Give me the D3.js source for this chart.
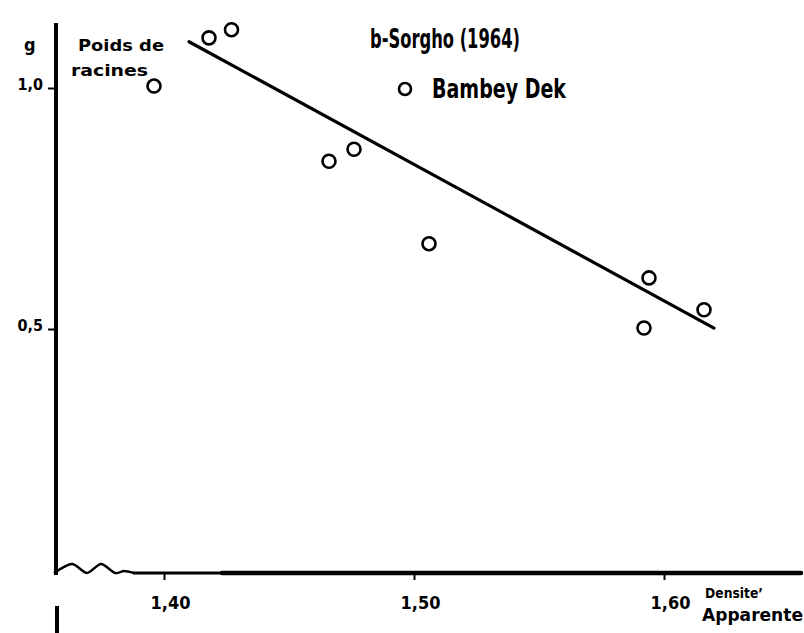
<!DOCTYPE html>
<html>
<head>
<meta charset="utf-8">
<script src="https://cdn.jsdelivr.net/npm/d3@7"></script>
<style>
  body { margin: 0; background: #fff; }
  svg { display: block; }
  text { font-family: "DejaVu Sans Condensed", "DejaVu Sans", sans-serif; fill: #000; font-weight: bold; }
</style>
</head>
<body>
<svg width="804" height="633"></svg>
<script>
    const width = 804;
    const height = 633;

    // Points (densite apparente, poids de racines en g)
    const densite = [1.396, 1.418, 1.427, 1.466, 1.476, 1.506, 1.594, 1.592, 1.616];
    const poids = [1.004, 1.104, 1.121, 0.848, 0.873, 0.677, 0.606, 0.502, 0.540];

    // Ends of the fitted line
    const droiteX = [1.41, 1.62];
    const droiteY = [1.096, 0.502];

    const xTicks = [1.40, 1.50, 1.60];
    const yTicks = [0.5, 1.0];

    const svg = d3.select('svg')
        .attr('viewBox', [0, 0, width, height]);

    const x = d3.scaleLinear().domain([1.40, 1.60]).range([164, 664]);
    const y = d3.scaleLinear().domain([0.5, 1.0]).range([329, 88]);

    const axisX = 56;   // where the y axis stands
    const axisY = 573;  // where the x axis lies

    const comma = d => d3.format('.2f')(d).replace('.', ',');

    // Y axis: thick vertical line and two ticks
    svg.append('line')
        .attr('x1', axisX).attr('x2', axisX)
        .attr('y1', 23).attr('y2', axisY + 2)
        .attr('stroke', '#000').attr('stroke-width', 4);
    // little piece of the axis below the break
    svg.append('line')
        .attr('x1', axisX + 1).attr('x2', axisX + 1)
        .attr('y1', 606).attr('y2', height)
        .attr('stroke', '#000').attr('stroke-width', 4);

    const gy = svg.append('g')
        .attr('transform', `translate(${axisX},0)`)
        .call(d3.axisLeft(y).tickValues(yTicks).tickSize(8).tickPadding(5)
            .tickFormat(d => d3.format('.1f')(d).replace('.', ',')));
    gy.select('.domain').remove();
    gy.selectAll('.tick line').attr('stroke-width', 2);
    gy.selectAll('.tick text')
        .attr('font-family', null)
        .style('font-size', '16px')
        .attr('dy', '0.1em');

    // X axis: wavy break then a thick straight line
    const wave = [
        [axisX - 2, axisY], [axisX + 16, axisY - 9], [axisX + 31, axisY],
        [axisX + 45, axisY - 9], [axisX + 59, axisY], [axisX + 68, axisY - 2],
        [axisX + 78, axisY]
    ];
    svg.append('path')
        .attr('d', d3.line().curve(d3.curveCardinal.tension(0.2))(wave))
        .attr('fill', 'none').attr('stroke', '#000').attr('stroke-width', 2.4);
    svg.append('line')
        .attr('x1', axisX + 77).attr('x2', 801)
        .attr('y1', axisY).attr('y2', axisY)
        .attr('stroke', '#000').attr('stroke-width', 3);
    svg.append('line')
        .attr('x1', 222).attr('x2', 801)
        .attr('y1', axisY).attr('y2', axisY)
        .attr('stroke', '#000').attr('stroke-width', 4.5)
        .attr('stroke-linecap', 'round');

    const gx = svg.append('g')
        .attr('transform', `translate(0,${axisY})`)
        .call(d3.axisBottom(x).tickValues(xTicks).tickSize(7).tickPadding(16).tickFormat(comma));
    gx.select('.domain').remove();
    gx.selectAll('.tick line').attr('stroke-width', 2);
    gx.selectAll('.tick text')
        .attr('font-family', null)
        .style('font-size', '18px')
        .attr('dx', '6');

    // Regression line
    svg.append('line')
        .attr('x1', x(droiteX[0])).attr('y1', y(droiteY[0]))
        .attr('x2', x(droiteX[1])).attr('y2', y(droiteY[1]))
        .attr('stroke', '#000').attr('stroke-width', 3.2)
        .attr('stroke-linecap', 'round');

    // Points
    svg.append('g')
        .selectAll('circle')
        .data(densite.map((d, i) => [d, poids[i]]))
        .enter()
        .append('circle')
        .attr('cx', d => x(d[0]))
        .attr('cy', d => y(d[1]))
        .attr('r', 6.5)
        .attr('fill', 'none')
        .attr('stroke', '#000')
        .attr('stroke-width', 2.6);

    // Axis titles
    svg.append('text').attr('x', 24).attr('y', 51)
        .style('font-size', '18px').text('g');
    svg.append('text').attr('x', 78).attr('y', 51)
        .attr('textLength', 86).attr('lengthAdjust', 'spacingAndGlyphs')
        .style('font-size', '16px').text('Poids de');
    svg.append('text').attr('x', 71).attr('y', 76)
        .attr('textLength', 77).attr('lengthAdjust', 'spacingAndGlyphs')
        .style('font-size', '16px').text('racines');

    svg.append('text').attr('x', 705).attr('y', 598)
        .attr('textLength', 58).attr('lengthAdjust', 'spacingAndGlyphs')
        .style('font-size', '14px').text('Densite\u2019');
    svg.append('text').attr('x', 702).attr('y', 621)
        .attr('textLength', 101).attr('lengthAdjust', 'spacingAndGlyphs')
        .style('font-size', '18px').text('Apparente');

    // Title and legend
    svg.append('text').attr('x', 370).attr('y', 48)
        .attr('textLength', 150)
        .attr('lengthAdjust', 'spacingAndGlyphs')
        .style('font-size', '26px').text('b-Sorgho (1964)');

    svg.append('circle')
        .attr('cx', 405).attr('cy', 89).attr('r', 6)
        .attr('fill', 'none').attr('stroke', '#000').attr('stroke-width', 2.6);
    svg.append('text').attr('x', 432).attr('y', 98)
        .attr('textLength', 134)
        .attr('lengthAdjust', 'spacingAndGlyphs')
        .style('font-size', '26px').text('Bambey Dek');
</script>
</body>
</html>
